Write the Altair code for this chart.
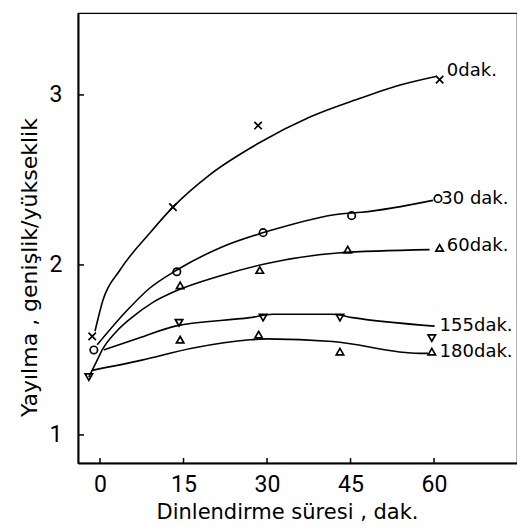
import altair as alt
import pandas as pd

# ---- measured points (x: dinlendirme süresi, y: yayılma) ----
p0_x = [-1.4, 13.1, 28.4, 61.0]
p0_y = [1.58, 2.34, 2.82, 3.09]
p30_x = [-1.1, 13.8, 29.3, 45.2, 60.7]
p30_y = [1.50, 1.96, 2.19, 2.29, 2.39]
p60_x = [14.4, 28.7, 44.5, 61.0]
p60_y = [1.88, 1.97, 2.09, 2.10]
p155_x = [-2.0, 14.2, 29.3, 43.1, 59.6]
p155_y = [1.34, 1.66, 1.69, 1.69, 1.57]
p180_x = [14.4, 28.5, 43.1, 59.6]
p180_y = [1.56, 1.59, 1.49, 1.49]

# ---- fitted curves ----
c0_x = [-0.9, 0.5, 3.6, 9.0, 13.1, 19.7, 28.7, 37.7, 46.7, 53.0, 60.5]
c0_y = [1.61, 1.79, 1.97, 2.19, 2.34, 2.53, 2.72, 2.87, 2.98, 3.05, 3.11]
c30_x = [-0.5, 4.5, 8.8, 13.8, 21.5, 31.4, 43.1, 47.0, 59.8]
c30_y = [1.53, 1.72, 1.86, 1.97, 2.10, 2.21, 2.30, 2.31, 2.38]
c60_x = [-2.0, -0.5, 0.4, 3.0, 5.7, 9.5, 13.5, 21.5, 30.2, 42.7, 59.2]
c60_y = [1.34, 1.44, 1.50, 1.61, 1.69, 1.78, 1.845, 1.935, 2.01, 2.07, 2.09]
c155_x = [0.7, 7.0, 13.5, 26.9, 31.1, 41.8, 45.4, 60.1]
c155_y = [1.50, 1.57, 1.64, 1.69, 1.71, 1.71, 1.69, 1.64]
c180_x = [-1.4, 7.5, 16.5, 26.9, 30.0, 41.8, 57.5, 58.9]
c180_y = [1.38, 1.44, 1.51, 1.56, 1.565, 1.55, 1.48, 1.48]

# ---- curve labels ----
lab_text = ["0dak.", "30 dak.", "60dak.", "155dak.", "180dak."]
lab_x = [62.3, 61.3, 62.3, 61.0, 61.0]
lab_y = [3.14, 2.39, 2.11, 1.64, 1.49]

x_ticks = [0, 15, 30, 45, 60]
y_ticks = [1, 2, 3]

series = ["0", "30", "60", "155", "180"]
shapes = ["M-1,-1L1,1M1,-1L-1,1", "circle", "triangle-up", "triangle-down", "triangle-up"]

pts = pd.concat([
    pd.DataFrame({"x": p0_x, "y": p0_y, "s": "0"}),
    pd.DataFrame({"x": p30_x, "y": p30_y, "s": "30"}),
    pd.DataFrame({"x": p60_x, "y": p60_y, "s": "60"}),
    pd.DataFrame({"x": p155_x, "y": p155_y, "s": "155"}),
    pd.DataFrame({"x": p180_x, "y": p180_y, "s": "180"}),
])
curves = pd.concat([
    pd.DataFrame({"x": c0_x, "y": c0_y, "s": "0"}),
    pd.DataFrame({"x": c30_x, "y": c30_y, "s": "30"}),
    pd.DataFrame({"x": c60_x, "y": c60_y, "s": "60"}),
    pd.DataFrame({"x": c155_x, "y": c155_y, "s": "155"}),
    pd.DataFrame({"x": c180_x, "y": c180_y, "s": "180"}),
])
labels = pd.DataFrame({"t": lab_text, "x": lab_x, "y": lab_y})

W, H = 439, 450
xs = alt.Scale(domain=[-3.95, 74.9], nice=False, zero=False)
ys = alt.Scale(domain=[0.835, 3.482], nice=False, zero=False)

xax = alt.Axis(values=x_ticks, format="d", ticks=False, grid=False, labelFont="Roboto", labelFontSize=23,
               labelColor="black", labelPadding=10, domainColor="black", domainWidth=2,
               title="Dinlendirme süresi , dak.", titleFont="DejaVu Sans", titleFontSize=21,
               titleFontWeight="normal", titleColor="black", titlePadding=5, titleX=209)
yax = alt.Axis(values=y_ticks, format="d", ticks=False, grid=False, labelFont="Roboto", labelFontSize=23,
               labelColor="black", labelPadding=16, domainColor="black", domainWidth=2,
               title="Yayılma , genişlik/yükseklik", titleFont="DejaVu Sans", titleFontSize=22,
               titleFontWeight="normal", titleColor="black", titlePadding=8, titleY=254)

lines = alt.Chart(curves).mark_line(color="black", strokeWidth=1.6, interpolate="monotone").encode(
    x=alt.X("x:Q", scale=xs, axis=xax),
    y=alt.Y("y:Q", scale=ys, axis=yax),
    detail="s:N",
)

points = alt.Chart(pts).mark_point(color="black", filled=False, strokeWidth=1.7, size=55, opacity=1).encode(
    x=alt.X("x:Q", scale=xs),
    y=alt.Y("y:Q", scale=ys),
    shape=alt.Shape("s:N", scale=alt.Scale(domain=series, range=shapes), legend=None),
)

texts = alt.Chart(labels).mark_text(align="left", baseline="middle", font="DejaVu Sans",
                                    fontSize=18, color="black").encode(
    x=alt.X("x:Q", scale=xs),
    y=alt.Y("y:Q", scale=ys),
    text="t:N",
)

xt = alt.Chart(pd.DataFrame({"v": x_ticks})).mark_rule(color="black", strokeWidth=1.5).encode(
    x=alt.X("v:Q", scale=xs), y=alt.value(H), y2=alt.value(H - 5))
yt = alt.Chart(pd.DataFrame({"v": y_ticks})).mark_rule(color="black", strokeWidth=1.5).encode(
    y=alt.Y("v:Q", scale=ys), x=alt.value(0), x2=alt.value(6))

chart = alt.layer(lines, points, texts, xt, yt).properties(
    width=W, height=H,
    autosize=alt.AutoSizeParams(type="none"),
    padding={"left": 70, "top": 5, "right": 0, "bottom": 61},
    background="white",
).configure_view(stroke="black", strokeWidth=1.2)

chart.save("out.html", embed_options={"renderer": "svg", "actions": False})
